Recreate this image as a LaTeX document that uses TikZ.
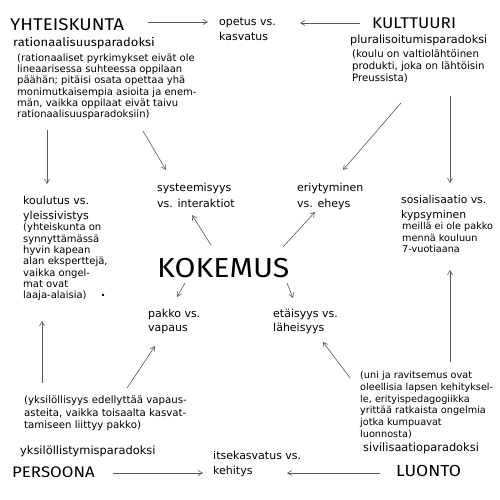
\documentclass[tikz,border=0pt]{standalone}
\usepackage{fontspec}
\setmainfont{DejaVu Sans}
\newfontfamily\handfont[FakeStretch=1.1]{Fira Sans}
\usetikzlibrary{arrows.meta}
\begin{document}
\begin{tikzpicture}[x=1pt,y=-1pt,
  every node/.style={inner sep=0pt, anchor=north west, align=left},
  arr/.style={draw=black!65, line width=0.6pt, -{Straight Barb[angle=60:5pt]}}]
\fill[white] (0,0) rectangle (500,500);
\useasboundingbox (0,0) rectangle (500,500);

% top row
\node[font=\handfont\fontsize{17}{20}\selectfont] (yht) at (10,18) {YHTEISKUNTA};
\node[font=\handfont\fontsize{11.8}{14}\selectfont] (ratp) at (13,37) {rationaalisuusparadoksi};
\node[font=\fontsize{10}{11.1}\selectfont] (ratpara) at (17,54) {(rationaaliset pyrkimykset eivät ole\\lineaarisessa suhteessa oppilaan\\päähän; pitäisi osata opettaa yhä\\monimutkaisempia asioita ja enem-\\män, vaikka oppilaat eivät taivu\\rationaalisuusparadoksiin)};
\node[font=\fontsize{11}{15}\selectfont] (opetus) at (219,18) {opetus vs.\\kasvatus};
\node[font=\handfont\fontsize{15.5}{18}\selectfont] (kult) at (372,18) {KULTTUURI};
\node[font=\fontsize{11.2}{12}\selectfont] (plur) at (350,35) {pluralisoitumisparadoksi};
\node[font=\fontsize{10.2}{11.7}\selectfont] (plurpara) at (352,50) {(koulu on valtiolähtöinen\\produkti, joka on lähtöisin\\Preussista)};

% middle
\node[font=\fontsize{11}{15.5}\selectfont] (sys) at (157,183) {systeemisyys\\vs. interaktiot};
\node[font=\fontsize{11}{15.5}\selectfont] (eri) at (297,183) {eriytyminen\\vs. eheys};
\node[font=\fontsize{11}{15}\selectfont] (kou) at (23,196) {koulutus vs.\\yleissivistys};
\node[font=\fontsize{10}{11.3}\selectfont] (koupara) at (23,223) {(yhteiskunta on\\synnyttämässä\\hyvin kapean\\alan eksperttejä,\\vaikka ongel-\\mat ovat\\laaja-alaisia)};
\node[font=\bfseries\fontsize{11}{12}\selectfont] (dot) at (101,294) {.};
\node[font=\fontsize{10.8}{15}\selectfont] (sos) at (401,195) {sosialisaatio vs.\\kypsyminen};
\node[font=\fontsize{9.7}{11.7}\selectfont] (sospara) at (402,222) {meillä ei ole pakko\\mennä kouluun\\7-vuotiaana};
\node[font=\handfont\fontsize{27.5}{32}\selectfont] (kok) at (157,258) {KOKEMUS};
\node[font=\fontsize{11}{14}\selectfont] (pak) at (148,309) {pakko vs.\\vapaus};
\node[font=\fontsize{11}{14}\selectfont] (eta) at (273,309) {etäisyys vs.\\läheisyys};

% bottom
\node[font=\fontsize{10.2}{12.2}\selectfont] (yks) at (24,396) {(yksilöllisyys edellyttää vapaus-\\asteita, vaikka toisaalta kasvat-\\tamiseen liittyy pakko)};
\node[font=\fontsize{11.4}{12}\selectfont] (yksp) at (20,446) {yksilöllistymisparadoksi};
\node[font=\handfont\fontsize{15.3}{18}\selectfont] (per) at (12,467) {PERSOONA};
\node[font=\fontsize{11}{15}\selectfont] (its) at (213,451) {itsekasvatus vs.\\kehitys};
\node[font=\fontsize{9.7}{11.8}\selectfont] (unipara) at (360,371) {(uni ja ravitsemus ovat\\oleellisia lapsen kehityksel-\\le, erityispedagogiikka\\yrittää ratkaista ongelmia\\jotka kumpuavat\\luonnosta)};
\node[font=\fontsize{11.4}{12}\selectfont] (sivp) at (363,443) {sivilisaatioparadoksi};
\node[font=\handfont\fontsize{16}{19}\selectfont] (luo) at (396,465) {LUONTO};

% connectors
\draw[arr] ([shift={(138,4)}]yht.north west) -- ([shift={(-11,4)}]opetus.north west);
\draw[arr] ([shift={(-12,5)}]kult.north west) -- ([shift={(81,5)}]opetus.north west);
\draw[arr] ([shift={(30,76)}]ratpara.north west) -- ([shift={(24,-12)}]kou.north west);
\draw[arr] ([shift={(126,77)}]ratpara.north west) -- ([shift={(9,-13)}]sys.north west);
\draw[arr] ([shift={(49,53)}]plurpara.north west) -- ([shift={(46,-13)}]eri.north west);
\draw[arr] ([shift={(98,46)}]plurpara.north west) -- ([shift={(49,-12)}]sos.north west);
\draw[arr] ([shift={(54,-13)}]kok.north west) -- ([shift={(35,32)}]sys.north west);
\draw[arr] ([shift={(126,-11)}]kok.north west) -- ([shift={(18,29)}]eri.north west);
\draw[arr] ([shift={(28,25)}]kok.north west) -- ([shift={(29,-12)}]pak.north west);
\draw[arr] ([shift={(130,25)}]kok.north west) -- ([shift={(20,-11)}]eta.north west);
\draw[arr] ([shift={(18,-13)}]yks.north west) -- ([shift={(19,98)}]koupara.north west);
\draw[arr] ([shift={(103,-8)}]yks.north west) -- ([shift={(7,37)}]pak.north west);
\draw[arr] ([shift={(-10,7)}]unipara.north west) -- ([shift={(50,33)}]eta.north west);
\draw[arr] ([shift={(90,-9)}]unipara.north west) -- ([shift={(48,48)}]sospara.north west);
\draw[arr] ([shift={(101,6)}]per.north west) -- ([shift={(-10,22)}]its.north west);
\draw[arr] ([shift={(-16,8)}]luo.north west) -- ([shift={(74,22)}]its.north west);
\end{tikzpicture}
\end{document}
